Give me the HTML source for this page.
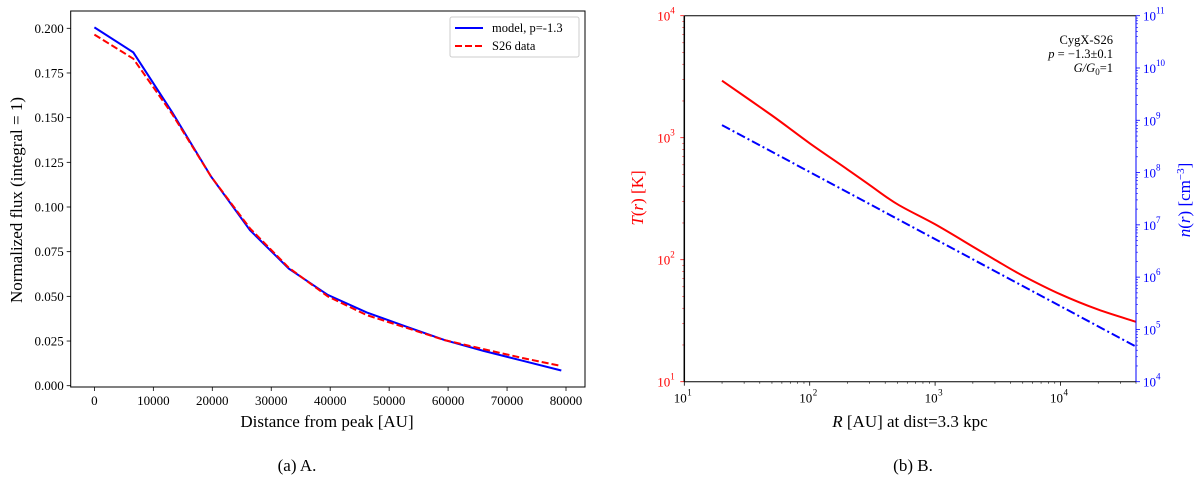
<!DOCTYPE html>
<html><head><meta charset="utf-8"><style>
html,body{margin:0;padding:0;background:#fff;}
svg{display:block;font-family:"Liberation Serif","DejaVu Serif",serif;}
</style></head><body>
<svg id="fig" width="1200" height="478" viewBox="0 0 1200 478" xmlns="http://www.w3.org/2000/svg"></svg>
<script>
// Panel A data
const distA = [0,6600,13200,19800,26400,33000,39600,46200,52800,59400,66000,72600,79200];
const modelFlux = [0.2005,0.1865,0.153,0.117,0.087,0.0655,0.0508,0.041,0.0332,0.0255,0.0195,0.014,0.0085];
const dataFlux = [0.1965,0.183,0.152,0.117,0.088,0.066,0.050,0.0395,0.0325,0.0255,0.0205,0.0155,0.011];
const xTicksA = [0,10000,20000,30000,40000,50000,60000,70000,80000];
const yTicksA = [0,0.025,0.05,0.075,0.1,0.125,0.15,0.175,0.2];
// Panel B data
const radiusB = [20,50,100,200,300,500,1000,2000,3000,5000,10000,20000,40000];
const tempB = [2930,1520,900,550,410,285,195,128,100,74,52,39,31];
const densR = [20,40000];
const densB = [8.1e8,4.7e4];
const xDecB = [1,2,3,4];
const yDecL = [1,2,3,4];
const yDecR = [4,5,6,7,8,9,10,11];

const NS="http://www.w3.org/2000/svg";
const svg=document.getElementById('fig');
function mk(tag,attrs,parent,text){const e=document.createElementNS(NS,tag);for(const k in attrs)e.setAttribute(k,attrs[k]);if(text!==undefined)e.textContent=text;(parent||svg).appendChild(e);return e;}
function pathOf(xs,ys,fx,fy){return xs.map((x,i)=>(i?'L':'M')+fx(x).toFixed(1)+','+fy(ys[i]).toFixed(1)).join(' ');}
function smoothPath(xs,ys,fx,fy){
  const p=xs.map((x,i)=>[fx(x),fy(ys[i])]);
  let d='M'+p[0][0].toFixed(1)+','+p[0][1].toFixed(1);
  for(let i=0;i<p.length-1;i++){
    const p0=p[i-1]||p[i],p1=p[i],p2=p[i+1],p3=p[i+2]||p[i+1];
    const c1=[p1[0]+(p2[0]-p0[0])/6,p1[1]+(p2[1]-p0[1])/6];
    const c2=[p2[0]-(p3[0]-p1[0])/6,p2[1]-(p3[1]-p1[1])/6];
    d+=' C'+c1.map(v=>v.toFixed(1)).join(',')+' '+c2.map(v=>v.toFixed(1)).join(',')+' '+p2.map(v=>v.toFixed(1)).join(',');
  }
  return d;
}

// ---------- Panel A ----------
const A={l:70.7,r:585,t:11,b:387};
const xA=v=>94.4+(v/80000)*(566-94.4);
const yA=v=>385.7-(v/0.2)*(385.7-28.3);
const gA=mk('g',{});


xTicksA.forEach(v=>{
  mk('line',{x1:xA(v),x2:xA(v),y1:A.b,y2:A.b+4,stroke:'#000','stroke-width':0.8},gA);
  const t=mk('text',{x:xA(v),y:A.b+18,'font-size':13,'text-anchor':'middle'},gA,String(v));
  
  
});
yTicksA.forEach(v=>{
  mk('line',{x1:A.l-4,x2:A.l,y1:yA(v),y2:yA(v),stroke:'#000','stroke-width':0.8},gA);
  const t=mk('text',{x:A.l-7,y:yA(v)+4.5,'font-size':13,'text-anchor':'end'},gA,v.toFixed(3));
  
  
});
const lm=mk('path',{d:pathOf(distA,modelFlux,xA,yA),fill:'none',stroke:'#0000ff','stroke-width':2},gA);


const ld=mk('path',{d:pathOf(distA,dataFlux,xA,yA),fill:'none',stroke:'#ff0000','stroke-width':2,'stroke-dasharray':'7,3'},gA);


mk('rect',{x:A.l,y:A.t,width:A.r-A.l,height:A.b-A.t,fill:'none',stroke:'#000','stroke-width':1},gA);
const lg=mk('g',{},gA);


mk('rect',{x:450,y:17,width:129,height:40,fill:'#fff',stroke:'#ccc','stroke-width':1,rx:2},lg);
mk('line',{x1:455,x2:483,y1:28,y2:28,stroke:'#0000ff','stroke-width':2},lg);
mk('text',{x:492,y:32,'font-size':12.5},lg,'model, p=-1.3');
mk('line',{x1:455,x2:483,y1:46,y2:46,stroke:'#ff0000','stroke-width':2,'stroke-dasharray':'7,3'},lg);
mk('text',{x:492,y:50,'font-size':12.5},lg,'S26 data');
const xla=mk('text',{x:327,y:427,'font-size':17,'text-anchor':'middle'},gA,'Distance from peak [AU]');


const yla=mk('text',{x:0,y:0,'font-size':17,'text-anchor':'middle',transform:'translate(22,200) rotate(-90)'},gA,'Normalized flux (integral = 1)');


const ca=mk('text',{x:297,y:471,'font-size':17,'text-anchor':'middle'},gA,'(a) A.');



// ---------- Panel B ----------
const B={l:684.3,r:1136,t:15.7,b:381.7};
const xB=v=>B.l+(Math.log10(v)-1)*125.4;
const yBL=v=>B.b-(Math.log10(v)-1)*122;
const yBR=v=>B.b-(Math.log10(v)-4)*(B.b-B.t)/7;
const gB=mk('g',{});


xDecB.forEach(d=>{
  const x=xB(Math.pow(10,d));
  mk('line',{x1:x,x2:x,y1:B.b,y2:B.b+4,stroke:'#000','stroke-width':0.8},gB);
  const t=mk('text',{x:x-4,y:B.b+21,'font-size':13,'text-anchor':'middle'},gB,'10');
  
  
  mk('text',{x:x+3,y:B.b+14,'font-size':9},gB,String(d));
  for(let m=2;m<=9;m++){const xm=xB(m*Math.pow(10,d));if(xm<B.r)mk('line',{x1:xm,x2:xm,y1:B.b,y2:B.b+2,stroke:'#000','stroke-width':0.6},gB);}
});
yDecL.forEach(d=>{
  const y=yBL(Math.pow(10,d));
  mk('line',{x1:B.l-4,x2:B.l,y1:y,y2:y,stroke:'#ff0000','stroke-width':0.8},gB);
  const t=mk('text',{x:B.l-14,y:y+5,'font-size':13,'text-anchor':'end',fill:'#ff0000'},gB,'10');
  
  
  mk('text',{x:B.l-14,y:y-2,'font-size':9,fill:'#ff0000'},gB,String(d));
  if(d<4)for(let m=2;m<=9;m++){const ym=yBL(m*Math.pow(10,d));mk('line',{x1:B.l-2,x2:B.l,y1:ym,y2:ym,stroke:'#ff0000','stroke-width':0.6},gB);}
});
yDecR.forEach(d=>{
  const y=yBR(Math.pow(10,d));
  mk('line',{x1:B.r,x2:B.r+4,y1:y,y2:y,stroke:'#0000ff','stroke-width':0.8},gB);
  const t=mk('text',{x:B.r+7,y:y+5,'font-size':13,fill:'#0000ff'},gB,'10');
  
  
  mk('text',{x:B.r+20,y:y-2,'font-size':9,fill:'#0000ff'},gB,String(d));
  if(d<11)for(let m=2;m<=9;m++){const ym=yBR(m*Math.pow(10,d));mk('line',{x1:B.r,x2:B.r+2,y1:ym,y2:ym,stroke:'#0000ff','stroke-width':0.6},gB);}
});
const lt=mk('path',{d:smoothPath(radiusB,tempB,xB,yBL),fill:'none',stroke:'#ff0000','stroke-width':2},gB);


const ln=mk('path',{d:pathOf(densR,densB,xB,yBR),fill:'none',stroke:'#0000ff','stroke-width':2,'stroke-dasharray':'9,3,2,3'},gB);


mk('line',{x1:B.l,x2:B.r,y1:B.t,y2:B.t,stroke:'#000','stroke-width':1},gB);
mk('line',{x1:B.l,x2:B.r,y1:B.b,y2:B.b,stroke:'#000','stroke-width':1},gB);
mk('line',{x1:B.l,x2:B.l,y1:B.t,y2:B.b,stroke:'#000','stroke-width':1.5},gB);
mk('line',{x1:B.r,x2:B.r,y1:B.t,y2:B.b,stroke:'#0000ff','stroke-width':1},gB);
const ann=mk('g',{'font-size':12.5,'text-anchor':'end'},gB);


mk('text',{x:1113,y:44},ann,'CygX-S26');
const a2=mk('text',{x:1113,y:58},ann);
mk('tspan',{'font-style':'italic'},a2,'p');mk('tspan',{},a2,' = −1.3±0.1');
const a3=mk('text',{x:1113,y:72},ann);
mk('tspan',{'font-style':'italic'},a3,'G/G');mk('tspan',{'font-size':9,dy:3},a3,'0');mk('tspan',{dy:-3},a3,'=1');
const xlb=mk('text',{x:910,y:427,'font-size':17,'text-anchor':'middle'},gB);


mk('tspan',{'font-style':'italic'},xlb,'R');mk('tspan',{},xlb,' [AU] at dist=3.3 kpc');
const ylb=mk('text',{x:0,y:0,'font-size':17,'text-anchor':'middle',fill:'#ff0000',transform:'translate(643,198) rotate(-90)'},gB);


mk('tspan',{'font-style':'italic'},ylb,'T');mk('tspan',{},ylb,'(');mk('tspan',{'font-style':'italic'},ylb,'r');mk('tspan',{},ylb,') [K]');
const yrb=mk('text',{x:0,y:0,'font-size':17,'text-anchor':'middle',fill:'#0000ff',transform:'translate(1190,200) rotate(-90)'},gB);


mk('tspan',{'font-style':'italic'},yrb,'n');mk('tspan',{},yrb,'(');mk('tspan',{'font-style':'italic'},yrb,'r');mk('tspan',{},yrb,') [cm');mk('tspan',{'font-size':11,dy:-6},yrb,'−3');mk('tspan',{dy:6},yrb,']');
const cb=mk('text',{x:913,y:471,'font-size':17,'text-anchor':'middle'},gB,'(b) B.');


</script>
</body></html>
